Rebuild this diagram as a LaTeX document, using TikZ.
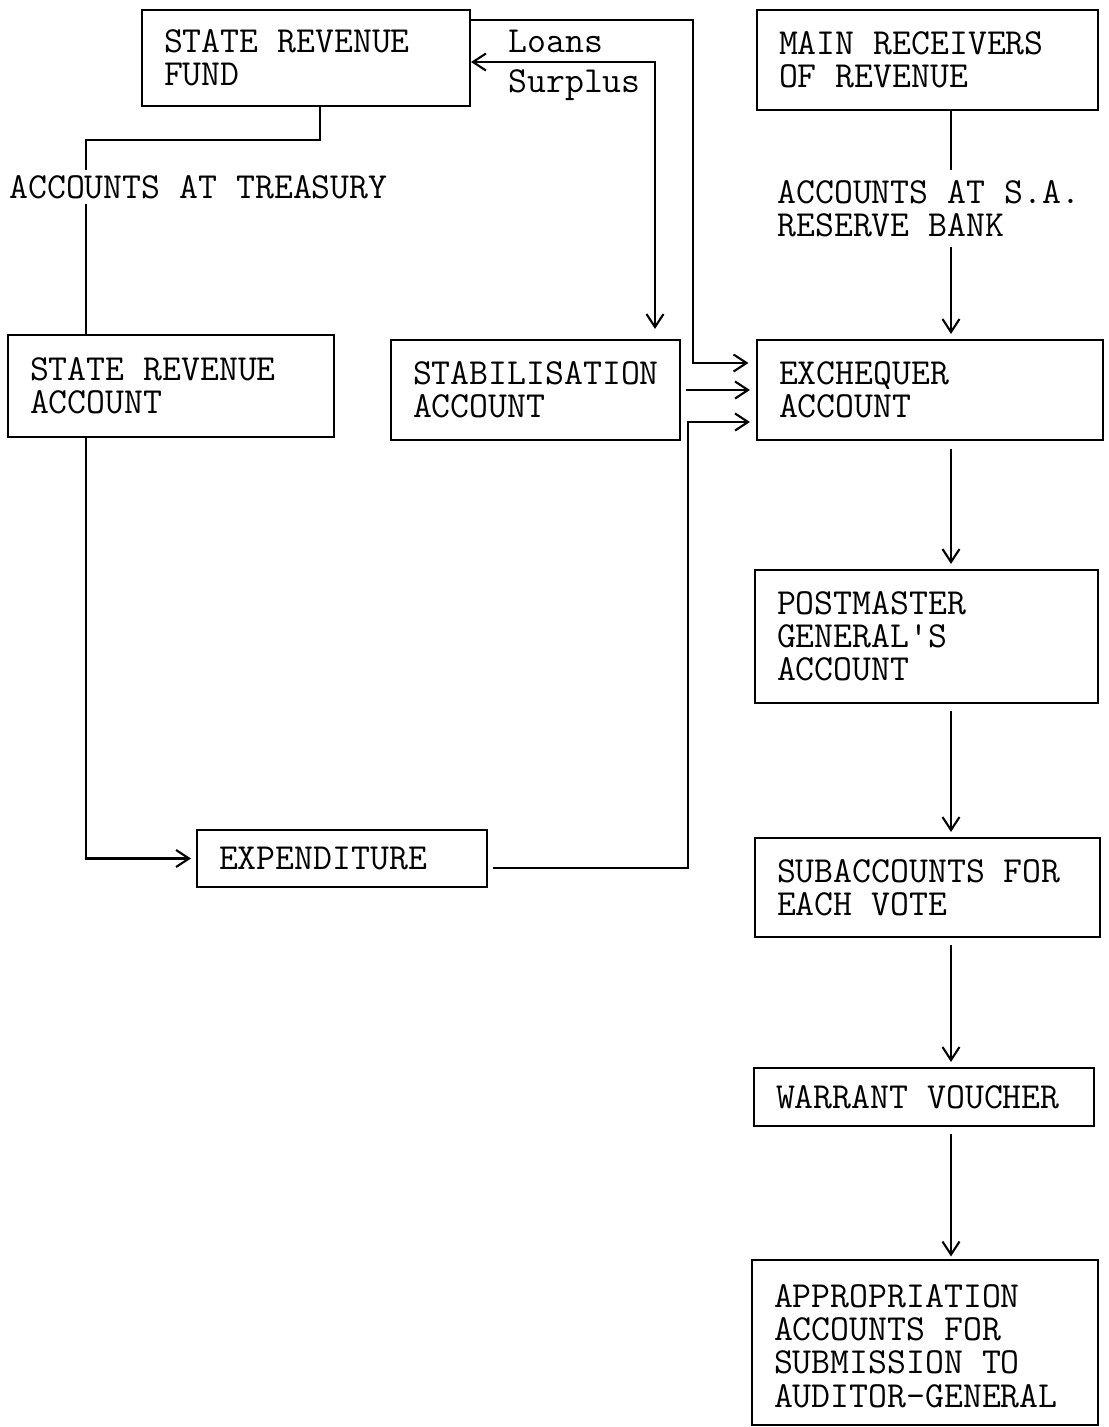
\documentclass[tikz,border=0pt]{standalone}
\usepackage{fontspec}
\usetikzlibrary{arrows.meta,calc}
\tikzset{
    box/.style = {
        draw, rectangle, align=flush left,
        line width=1.2pt,
        inner xsep=0.44cm,
        inner ysep=4pt,
        font=\ttfamily\fontsize{20.9pt}{18.9pt}\selectfont
    },
    boxsize/.style n args = {3}{
        minimum width=#1cm, minimum height=#2cm, text width=#3cm
    },
    lab/.style = {
        align=flush left,
        inner sep=0.1cm,
        font=\ttfamily\fontsize{20.9pt}{18.9pt}\selectfont
    },
    wire/.style = {
        line width=1.2pt
    }
}

\begin{document}
\begin{tikzpicture}[x=0.02cm,y=-0.02cm,>={Straight Barb[length=0.26cm,width=0.34cm]}]
\useasboundingbox (0,0) rectangle (1109,1427);

% 1. boxes
\node[box,boxsize={6.56}{1.92}{5.68}] (srf)  at (306,58)    {STATE REVENUE\\ FUND};
\node[box,boxsize={6.82}{2.00}{5.94}] (mrr)  at (927.5,60)  {MAIN RECEIVERS\\ OF REVENUE};
\node[box,boxsize={6.52}{2.04}{5.64}] (sra)  at (171,386)   {STATE REVENUE\\ ACCOUNT};
\node[box,boxsize={5.78}{2.00}{4.90}] (stab) at (535.5,390) {STABILISATION\\ ACCOUNT};
\node[box,boxsize={6.92}{2.00}{6.04}] (exch) at (930,390)   {EXCHEQUER\\ ACCOUNT};
\node[box,boxsize={6.86}{2.66}{5.98}] (pmg)  at (926.5,636.5) {POSTMASTER\\ GENERAL'S\\ ACCOUNT};
\node[box,boxsize={6.90}{1.98}{6.02}] (sub)  at (927.5,887.5) {SUBACCOUNTS FOR\\ EACH VOTE};
\node[box,boxsize={6.80}{1.16}{5.92}] (wv)   at (924,1097)  {WARRANT VOUCHER};
\node[box,boxsize={6.92}{3.30}{6.04}] (app)  at (925,1342.5) {\rule{0pt}{0.6cm}APPROPRIATION\\ ACCOUNTS FOR\\ SUBMISSION TO\\ AUDITOR-GENERAL};
\node[box,boxsize={5.80}{1.14}{4.92}] (exp)  at (342,858.5) {EXPENDITURE};

% 2. labels
\node[lab,anchor=base west,inner ysep=0.1cm] (treas) at (4,198) {ACCOUNTS AT TREASURY};
\node[lab,anchor=north west,inner ysep=0.2cm] (rb) at (772,170) {ACCOUNTS AT S.A.\\ RESERVE BANK};
\node[lab,anchor=base west,inner sep=0] (loans) at (508,52) {Loans};
\node[lab,anchor=base west,inner sep=0] (surplus) at (508,92) {Surplus};

% 3. bend points
\coordinate (t1) at (320,140);
\coordinate (t2) at (86,140);
\coordinate (r1) at (693,20);
\coordinate (r2) at (693,363);
\coordinate (s1) at (655,62);
\coordinate (e1) at (688,868);
\coordinate (e2) at (688,422);
\coordinate (v1) at (951,0);

% 4. left side
\draw[wire] (srf.south -| t1) -- (t1) -- (t2) -- (t2 |- treas.north);
\draw[wire] (t2 |- treas.south) -- (t2 |- sra.north);
\draw[wire,->,shorten >=0.1cm] (t2 |- sra.south) |- (exp.west);

% 5. into exchequer
\draw[wire,->,shorten >=0.15cm] (srf.north east |- r1) -- (r1) -- (r2) -- (r2 -| exch.west);
\draw[wire,<->,shorten >=0.2cm] (srf.east |- s1) -- (s1) -- (s1 |- stab.north);
\draw[wire,->,shorten <=0.1cm,shorten >=0.12cm] (stab.east) -- (stab.east -| exch.west);
\draw[wire,->,shorten >=0.12cm] ($(exp.east |- e1)+(5,0)$) -- (e1) -- (e2) -- (e2 -| exch.west);

% 6. right column
\draw[wire] (mrr.south -| v1) -- (rb.north -| v1);
\draw[wire,->,shorten >=0.1cm] (rb.south -| v1) -- (exch.north -| v1);
\draw[wire,->,shorten <=0.15cm,shorten >=0.1cm] (exch.south -| v1) -- (pmg.north -| v1);
\draw[wire,->,shorten <=0.14cm,shorten >=0.1cm] (pmg.south -| v1) -- (sub.north -| v1);
\draw[wire,->,shorten <=0.14cm,shorten >=0.1cm] (sub.south -| v1) -- (wv.north -| v1);
\draw[wire,->,shorten <=0.14cm,shorten >=0.05cm] (wv.south -| v1) -- (app.north -| v1);

\end{tikzpicture}
\end{document}
